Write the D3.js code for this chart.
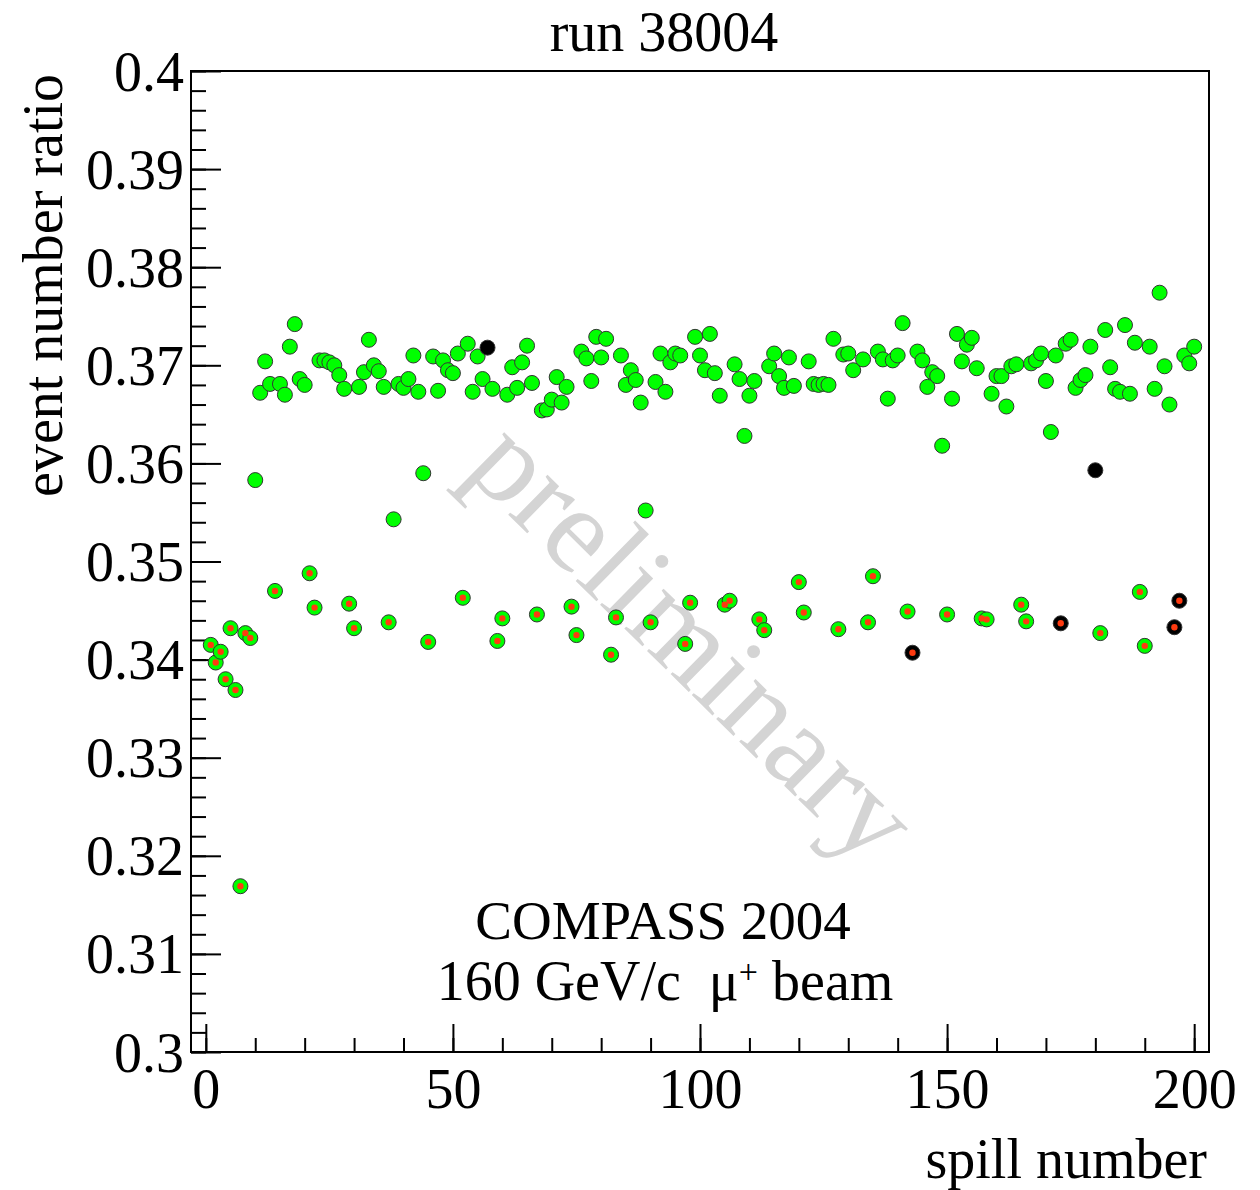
<!DOCTYPE html>
<html>
<head>
<meta charset="utf-8">
<script src="https://cdn.jsdelivr.net/npm/d3@7"></script>
<style>
  body { margin: 0; background: #fff; }
  text { font-family: "Liberation Serif", "DejaVu Serif", serif; fill: #000; }
</style>
</head>
<body>
<div id="chart"></div>
<script>
// upper band spills (green)
const upperSpills = [10, 11, 12, 13, 15, 16, 17, 18, 19, 20, 23, 24, 25, 26, 27, 28,
  31, 32, 33, 34, 35, 36, 38, 39, 40, 41, 42, 43, 44, 46, 47, 48, 49, 50, 51,
  53, 54, 55, 56, 57, 58, 61, 62, 63, 64, 65, 66, 68, 69, 70, 71, 72, 73,
  76, 77, 78, 79, 80, 81, 84, 85, 86, 87, 88, 89, 91, 92, 93, 94, 95, 96,
  99, 100, 101, 102, 103, 104, 107, 108, 109, 110, 111, 114, 115, 116, 117, 118, 119,
  122, 123, 124, 125, 126, 127, 129, 130, 131, 133, 136, 137, 138, 139, 140, 141,
  144, 145, 146, 147, 148, 149, 151, 152, 153, 154, 155, 156, 159, 160, 161, 162, 163, 164,
  167, 168, 169, 170, 171, 172, 174, 175, 176, 177, 178, 179, 180,
  182, 183, 184, 185, 186, 187, 188, 191, 192, 193, 194, 195, 198, 199, 200];
const upperRatio = [0.3583, 0.3672, 0.3704, 0.3681, 0.3681, 0.3670, 0.3719, 0.3742, 0.3686, 0.3680, 0.3705, 0.3705, 0.3703, 0.3700, 0.3690, 0.3676,
  0.3678, 0.3693, 0.3726, 0.3700, 0.3694, 0.3678, 0.3543, 0.3681, 0.3677, 0.3686, 0.3710, 0.3673, 0.3590, 0.3709, 0.3674, 0.3705, 0.3695, 0.3692, 0.3712,
  0.3722, 0.3673, 0.3709, 0.3686, 0.3718, 0.3676, 0.3670, 0.3698, 0.3677, 0.3703, 0.3720, 0.3682, 0.3654, 0.3655, 0.3665, 0.3688, 0.3662, 0.3678,
  0.3714, 0.3707, 0.3684, 0.3729, 0.3708, 0.3727, 0.3710, 0.3680, 0.3695, 0.3685, 0.3662, 0.3552, 0.3683, 0.3712, 0.3673, 0.3703, 0.3712, 0.3710,
  0.3729, 0.3710, 0.3695, 0.3732, 0.3692, 0.3669, 0.3701, 0.3686, 0.3628, 0.3669, 0.3684, 0.3699, 0.3712, 0.3689, 0.3677, 0.3708, 0.3679,
  0.3704, 0.3681, 0.3680, 0.3681, 0.3680, 0.3727, 0.3711, 0.3712, 0.3695, 0.3706, 0.3714, 0.3706, 0.3666, 0.3705, 0.3710, 0.3743,
  0.3714, 0.3705, 0.3678, 0.3693, 0.3689, 0.3618, 0.3666, 0.3732, 0.3704, 0.3721, 0.3728, 0.3697, 0.3671, 0.3689, 0.3689, 0.3658, 0.3699, 0.3701,
  0.3702, 0.3705, 0.3712, 0.3684, 0.3632, 0.3710, 0.3722, 0.3726, 0.3677, 0.3685, 0.3690, 0.3719, 0.3593,
  0.3736, 0.3698, 0.3676, 0.3673, 0.3741, 0.3671, 0.3723, 0.3719, 0.3676, 0.3774, 0.3699, 0.3660, 0.3710, 0.3702, 0.3719];

// lower band spills (green with red dot)
const lowerSpills = [1, 2, 3, 4, 5, 6, 7, 8, 9, 14, 21, 22, 29, 30, 37, 45, 52, 59, 60, 67, 74, 75,
  82, 83, 90, 97, 98, 105, 106, 112, 113, 120, 121, 128, 134, 135, 142, 143, 150, 157, 158,
  165, 166, 173, 181, 189, 190, 196, 197];
const lowerRatio = [0.3415, 0.3397, 0.3408, 0.3380, 0.3432, 0.3369, 0.3169, 0.3427, 0.3422, 0.3470, 0.3488, 0.3453, 0.3457, 0.3432, 0.3438, 0.3418, 0.3463, 0.3419, 0.3442, 0.3446, 0.3454, 0.3425,
  0.3405, 0.3443, 0.3438, 0.3416, 0.3458, 0.3456, 0.3460, 0.3441, 0.3430, 0.3479, 0.3448, 0.3431, 0.3438, 0.3485, 0.3449, 0.3407, 0.3446, 0.3442, 0.3441,
  0.3456, 0.3439, 0.3437, 0.3427, 0.3469, 0.3414, 0.3433, 0.3460];

// flagged spills (black markers)
const flaggedSpills = [57, 143, 173, 180, 196, 197];

const xTicks = [0, 50, 100, 150, 200];
const xTickLabels = ['0', '50', '100', '150', '200'];
const yTicks = [0.3, 0.31, 0.32, 0.33, 0.34, 0.35, 0.36, 0.37, 0.38, 0.39, 0.4];
const yTickLabels = ['0.3', '0.31', '0.32', '0.33', '0.34', '0.35', '0.36', '0.37', '0.38', '0.39', '0.4'];

const width = 1260, height = 1190;
const frame = { left: 191, right: 1209, top: 71, bottom: 1052 };

const svg = d3.select('#chart')
  .append('svg')
  .attr('width', width)
  .attr('height', height);

const x = d3.scaleLinear().domain([-3, 203]).range([frame.left, frame.right]);
const y = d3.scaleLinear().domain([0.3, 0.4]).range([frame.bottom, frame.top]);

// watermark behind everything
svg.append('text')
  .attr('transform', 'translate(695,640) rotate(44.5)')
  .attr('text-anchor', 'middle')
  .attr('dominant-baseline', 'central')
  .style('font-size', '122px')
  .style('fill', '#d4d4d4')
  .text('preliminary');

// minor ticks
const yMinor = d3.range(0.3, 0.4001, 0.002);
svg.append('g')
  .attr('transform', `translate(${frame.left},0)`)
  .call(d3.axisLeft(y).tickValues(yMinor).tickSize(-15).tickFormat(''))
  .call((g) => g.select('.domain').remove())
  .selectAll('line').attr('stroke', '#000').attr('stroke-width', 2);

svg.append('g')
  .attr('transform', `translate(0,${frame.bottom})`)
  .call(d3.axisBottom(x).tickValues(d3.range(0, 201, 10)).tickSize(-14).tickFormat(''))
  .call((g) => g.select('.domain').remove())
  .selectAll('line').attr('stroke', '#000').attr('stroke-width', 2);

// major ticks + labels
const yAxis = svg.append('g')
  .attr('transform', `translate(${frame.left},0)`)
  .call(d3.axisLeft(y).tickValues(yTicks).tickSize(-30).tickPadding(7)
    .tickFormat((d, i) => yTickLabels[i]));
yAxis.select('.domain').remove();
yAxis.selectAll('line').attr('stroke', '#000').attr('stroke-width', 2);
yAxis.selectAll('text')
  .attr('dy', '0.34em')
  .style('font-size', '56px')
  .style('font-family', '"Liberation Serif", serif')
  .attr('fill', '#000');

const xAxis = svg.append('g')
  .attr('transform', `translate(0,${frame.bottom})`)
  .call(d3.axisBottom(x).tickValues(xTicks).tickSize(-28).tickPadding(0)
    .tickFormat((d, i) => xTickLabels[i]));
xAxis.select('.domain').remove();
xAxis.selectAll('line').attr('stroke', '#000').attr('stroke-width', 2);
xAxis.selectAll('text')
  .attr('y', 56)
  .attr('dy', 0)
  .style('font-size', '56px')
  .style('font-family', '"Liberation Serif", serif')
  .attr('fill', '#000');

// frame
svg.append('rect')
  .attr('x', frame.left)
  .attr('y', frame.top)
  .attr('width', frame.right - frame.left)
  .attr('height', frame.bottom - frame.top)
  .attr('fill', 'none')
  .attr('stroke', '#000')
  .attr('stroke-width', 2);

// points
const upper = upperSpills.map((s, i) => ({ spill: s, ratio: upperRatio[i] }));
const lower = lowerSpills.map((s, i) => ({ spill: s, ratio: lowerRatio[i] }));
const all = upper.concat(lower);

svg.append('g')
  .selectAll('circle')
  .data(all)
  .enter()
  .append('circle')
  .attr('cx', (d) => x(d.spill))
  .attr('cy', (d) => y(d.ratio))
  .attr('r', 7.5)
  .attr('fill', (d) => (flaggedSpills.includes(d.spill) ? '#000' : '#00ff00'))
  .attr('stroke', '#333')
  .attr('stroke-width', 1);

svg.append('g')
  .selectAll('circle')
  .data(lower)
  .enter()
  .append('circle')
  .attr('cx', (d) => x(d.spill))
  .attr('cy', (d) => y(d.ratio))
  .attr('r', 3.2)
  .attr('fill', '#ff3a10');

// titles and labels
svg.append('text')
  .attr('x', 664)
  .attr('y', 51)
  .attr('text-anchor', 'middle')
  .style('font-size', '56px')
  .text('run 38004');

svg.append('text')
  .attr('transform', 'translate(62,74) rotate(-90)')
  .attr('text-anchor', 'end')
  .style('font-size', '56px')
  .text('event number ratio');

svg.append('text')
  .attr('x', 1207)
  .attr('y', 1178)
  .attr('text-anchor', 'end')
  .style('font-size', '56px')
  .text('spill number');

svg.append('text')
  .attr('x', 663)
  .attr('y', 939)
  .attr('text-anchor', 'middle')
  .style('font-size', '55px')
  .text('COMPASS 2004');

const beam = svg.append('text')
  .attr('x', 665)
  .attr('y', 1000)
  .attr('text-anchor', 'middle')
  .style('font-size', '56px')
  .attr('xml:space', 'preserve');
beam.append('tspan').text('160 GeV/c  μ');
beam.append('tspan').attr('dy', -17).style('font-size', '34px').text('+');
beam.append('tspan').attr('dy', 17).text(' beam');
</script>
</body>
</html>
